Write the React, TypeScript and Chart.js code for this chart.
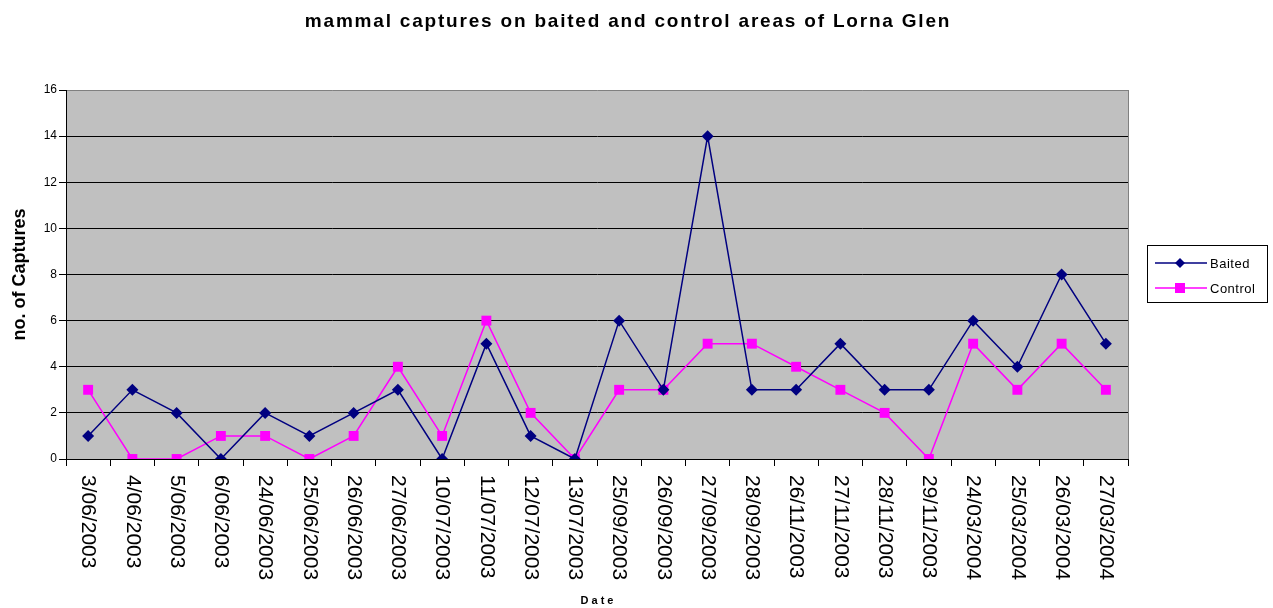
import React, { useEffect, useRef } from "react";
import { Chart, registerables } from "chart.js";

Chart.register(...registerables);

const dates = [
  "3/06/2003", "4/06/2003", "5/06/2003", "6/06/2003", "24/06/2003", "25/06/2003",
  "26/06/2003", "27/06/2003", "10/07/2003", "11/07/2003", "12/07/2003", "13/07/2003",
  "25/09/2003", "26/09/2003", "27/09/2003", "28/09/2003", "26/11/2003", "27/11/2003",
  "28/11/2003", "29/11/2003", "24/03/2004", "25/03/2004", "26/03/2004", "27/03/2004",
];
const baited = [1, 3, 2, 0, 2, 1, 2, 3, 0, 5, 1, 0, 6, 3, 14, 3, 3, 5, 3, 3, 6, 4, 8, 5];
const control = [3, 0, 0, 1, 1, 0, 1, 4, 1, 6, 2, 0, 3, 3, 5, 5, 4, 3, 2, 0, 5, 3, 5, 3];

const chartTitle = "mammal captures on baited and control areas of Lorna Glen";
const yTitle = "no. of Captures";
const xTitle = "Date";
const seriesNames = ["Baited", "Control"];

const FONT = "'Liberation Sans', Arial, sans-serif";

const customPlugin = {
  id: "custom",
  beforeDraw(chart: any) {
    const { ctx, chartArea: a } = chart;
    ctx.save();
    ctx.fillStyle = "#C0C0C0";
    ctx.fillRect(a.left, a.top, a.right - a.left, a.bottom - a.top);
    ctx.restore();
  },
  afterDraw(chart: any) {
    const { ctx, chartArea: a } = chart;
    const xs = chart.scales.x;
    ctx.save();
    // right border
    ctx.strokeStyle = "#808080";
    ctx.lineWidth = 1;
    ctx.beginPath();
    ctx.moveTo(a.right + 0.5, a.top);
    ctx.lineTo(a.right + 0.5, a.bottom);
    ctx.stroke();

    // title
    ctx.fillStyle = "#000";
    ctx.font = `bold 19px ${FONT}`;
    (ctx as any).letterSpacing = "1.8px";
    ctx.textAlign = "center";
    ctx.textBaseline = "middle";
    ctx.fillText(chartTitle, 628, 22);
    (ctx as any).letterSpacing = "0px";

    // y title
    ctx.save();
    ctx.translate(20, (a.top + a.bottom) / 2);
    ctx.rotate(-Math.PI / 2);
    ctx.font = `bold 18px ${FONT}`;
    ctx.fillText(yTitle, 0, 0);
    ctx.restore();

    // x title
    ctx.font = `bold 11px ${FONT}`;
    (ctx as any).letterSpacing = "3px";
    ctx.fillText(xTitle, (a.left + a.right) / 2 + 1.5, 601);
    (ctx as any).letterSpacing = "0px";

    // x tick labels rotated clockwise
    ctx.font = `21px ${FONT}`;
    ctx.textAlign = "left";
    ctx.textBaseline = "middle";
    dates.forEach((d, i) => {
      const x = xs.getPixelForValue(i);
      ctx.save();
      ctx.translate(x, a.bottom + 16);
      ctx.rotate(Math.PI / 2);
      ctx.fillText(d, 0, 0);
      ctx.restore();
    });

    // legend
    ctx.fillStyle = "#fff";
    ctx.fillRect(1147.5, 245.5, 120, 57);
    ctx.strokeStyle = "#000";
    ctx.strokeRect(1147.5, 245.5, 120, 57);
    const rows = [
      { y: 263, color: "#000080", kind: "diamond" },
      { y: 288, color: "#FF00FF", kind: "square" },
    ];
    rows.forEach((r, i) => {
      ctx.strokeStyle = r.color;
      ctx.lineWidth = 1.5;
      ctx.beginPath();
      ctx.moveTo(1155, r.y);
      ctx.lineTo(1207, r.y);
      ctx.stroke();
      ctx.fillStyle = r.color;
      if (r.kind === "diamond") {
        ctx.beginPath();
        ctx.moveTo(1180, r.y - 5);
        ctx.lineTo(1185, r.y);
        ctx.lineTo(1180, r.y + 5);
        ctx.lineTo(1175, r.y);
        ctx.closePath();
        ctx.fill();
      } else {
        ctx.fillRect(1175, r.y - 5, 10, 10);
      }
      ctx.fillStyle = "#000";
      ctx.font = `13px ${FONT}`;
      (ctx as any).letterSpacing = "0.5px";
      ctx.textAlign = "left";
      ctx.textBaseline = "middle";
      ctx.fillText(seriesNames[i], 1210, r.y + 1);
      (ctx as any).letterSpacing = "0px";
    });
    ctx.restore();
  },
};

export default function App() {
  const ref = useRef<HTMLCanvasElement | null>(null);
  useEffect(() => {
    if (!ref.current) return;
    const chart = new Chart(ref.current, {
      type: "line",
      data: {
        labels: dates,
        datasets: [
          {
            label: seriesNames[0],
            data: baited,
            borderColor: "#000080",
            backgroundColor: "#000080",
            borderWidth: 1.5,
            pointStyle: "rectRot",
            pointRadius: 6,
            pointBorderWidth: 0,
            tension: 0,
          },
          {
            label: seriesNames[1],
            data: control,
            borderColor: "#FF00FF",
            backgroundColor: "#FF00FF",
            borderWidth: 1.5,
            pointStyle: "rect",
            pointRadius: 7,
            pointBorderWidth: 0,
            tension: 0,
          },
        ],
      },
      options: {
        animation: false,
        responsive: true,
        maintainAspectRatio: false,
        layout: { padding: { top: 90, right: 145, left: 0, bottom: 0 } },
        plugins: {
          legend: { display: false },
          title: { display: false },
          tooltip: { enabled: false },
        },
        scales: {
          x: {
            type: "category",
            offset: true,
            afterFit: (s: any) => {
              s.height = 149;
            },
            ticks: { display: false },
            grid: {
              offset: true,
              drawOnChartArea: false,
              drawTicks: true,
              tickLength: 7,
              color: "#000",
            },
            border: { color: "#000", width: 1 },
          },
          y: {
            min: 0,
            max: 16,
            afterFit: (s: any) => {
              s.width = 66;
            },
            ticks: {
              stepSize: 2,
              color: "#000",
              padding: 2,
              font: { family: FONT, size: 12 },
            },
            grid: {
              color: (c: any) => (c.tick && c.tick.value === 16 ? "#808080" : "#000"),
              tickColor: "#000",
              tickLength: 7,
              drawTicks: true,
            },
            border: { color: "#000", width: 1 },
          },
        },
      },
      plugins: [customPlugin],
    });
    return () => chart.destroy();
  }, []);
  return (
    <div style={{ position: "absolute", left: 0, top: 0, width: 1273, height: 608 }}>
      <canvas ref={ref} />
    </div>
  );
}
